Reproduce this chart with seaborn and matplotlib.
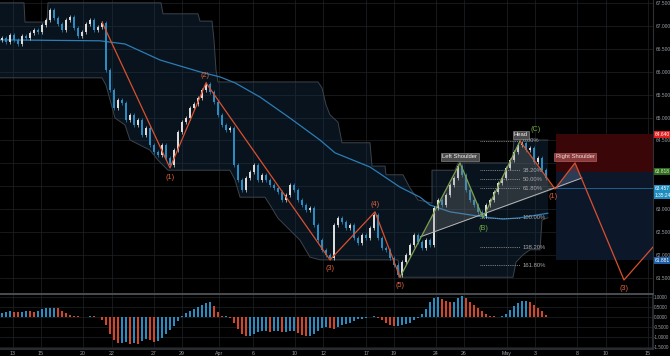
import numpy as np
import matplotlib
matplotlib.use('Agg')
import matplotlib.pyplot as plt
import seaborn as sns

# ---------------- data ----------------
# time axis: chart time units (14 units = 1 trading day)
tick_pos = [12.7, 41, 83, 112, 154, 182, 219, 253, 295, 323, 366, 394, 436, 464, 507, 535, 577, 606, 648]
tick_labels = ['13', '15', '20', '22', '27', '29', 'Apr', '6', '10', '12', '17', '19',
               '24', '26', 'May', '3', '8', '10', '15']

price_ticks = [61.5, 62.0, 62.5, 63.0, 63.5, 64.0, 64.5, 65.0, 65.5, 66.0, 66.5, 67.0, 67.5]
price_tick_shown = [True, True, True, True, False, False, True, True, True, True, True, True, True]
osc_ticks = [1.0, 0.5, 0.0, -0.5, -1.0, -1.5]

closes = [66.74, 66.65, 66.81, 66.70, 66.61, 66.78, 66.74, 66.85, 66.92, 66.87,
          67.03, 67.13, 67.35, 67.18, 67.05, 66.92, 67.13, 67.20, 66.96, 66.78,
          66.87, 67.05, 67.13, 66.92, 66.98, 67.07, 66.04, 65.60, 65.21, 65.39,
          65.32, 64.95, 65.06, 64.84, 64.95, 64.62, 64.77, 64.40, 64.25, 64.18,
          64.40, 64.12, 63.96, 64.29, 64.69, 64.90, 64.99, 65.21, 65.30, 65.43,
          65.60, 65.74, 65.56, 65.34, 65.06, 64.84, 64.73, 64.77, 63.96, 63.64,
          63.42, 63.68, 63.81, 63.96, 63.64, 63.75, 63.64, 63.53, 63.46, 63.37,
          63.20, 63.31, 63.53, 63.42, 63.20, 63.09, 62.98, 63.02, 62.65, 62.32,
          62.11, 62.00, 61.93, 62.65, 62.81, 62.72, 62.59, 62.65, 62.37, 62.26,
          62.43, 62.37, 62.59, 62.87, 62.37, 62.15, 62.11, 61.93, 61.78, 61.56,
          61.84, 62.00, 62.22, 62.43, 62.28, 62.15, 62.32, 62.22, 63.02, 63.20,
          63.09, 63.31, 63.53, 63.68, 63.94, 63.75, 63.42, 63.20, 63.09, 62.94,
          62.85, 63.09, 63.20, 63.37, 63.57, 63.68, 63.90, 64.07, 64.25, 64.40,
          64.45, 64.29, 64.34, 64.03, 64.12, 63.85, 63.68]
first_open = 66.70

osc = [0.20, 0.25, 0.30, 0.25, 0.22, 0.25, 0.30, 0.28, 0.25, 0.30,
       0.38, 0.42, 0.45, 0.45, 0.42, 0.30, 0.20, 0.10, 0.05, 0.02,
       -0.02, 0.00, 0.03, 0.02, -0.02, -0.15, -0.40, -0.85, -1.15, -1.30,
       -1.30, -1.25, -1.35, -1.30, -1.35, -1.20, -1.10, -1.15, -1.25, -1.20,
       -1.05, -0.85, -0.65, -0.45, -0.20, 0.05, 0.20, 0.30, 0.40, 0.50,
       0.60, 0.70, 0.72, 0.55, 0.25, 0.05, 0.05, -0.05, -0.30, -0.60,
       -0.85, -0.95, -0.95, -0.85, -0.75, -0.70, -0.70, -0.75, -0.70, -0.70,
       -0.75, -0.75, -0.70, -0.70, -0.80, -0.90, -0.98, -0.95, -0.85, -0.70,
       -0.55, -0.50, -0.55, -0.60, -0.50, -0.40, -0.35, -0.30, -0.20, -0.12,
       -0.10, -0.05, 0.00, 0.02, -0.05, -0.15, -0.30, -0.40, -0.45, -0.45,
       -0.40, -0.35, -0.30, -0.15, -0.05, 0.15, 0.40, 0.75, 0.95, 1.00,
       0.90, 0.80, 0.72, 0.75, 0.95, 1.05, 0.95, 0.75, 0.60, 0.45,
       0.30, 0.15, 0.05, 0.02, 0.00, 0.05, 0.15, 0.35, 0.55, 0.70,
       0.78, 0.80, 0.72, 0.60, 0.45, 0.30, 0.10]

ma_t = [0, 100, 125, 160, 200, 220, 235, 260, 290, 320, 335, 370, 400, 420, 430, 450, 483, 503, 520, 548]
ma_p = [66.70, 66.68, 66.61, 66.26, 66.00, 65.89, 65.76, 65.45, 64.99, 64.51, 64.23, 63.92,
        63.48, 63.26, 63.09, 62.94, 62.83, 62.78, 62.81, 62.91]

up_t = [0, 24, 25, 47, 48, 161, 163, 198, 200, 212, 214, 216, 218, 318, 322, 326, 330, 338, 342,
        370, 372, 385, 386, 403, 410, 418, 432, 432, 455, 458, 512, 514, 548]
up_p = [67.51, 67.51, 67.09, 67.09, 67.51, 67.51, 67.27, 67.27, 67.11, 67.11, 66.70, 66.04, 65.78,
        65.78, 65.65, 65.28, 65.06, 64.90, 64.45, 64.45, 63.94, 63.94, 63.75, 63.75, 63.46, 63.20,
        63.13, 63.85, 63.85, 64.01, 64.01, 64.51, 64.51]
lo_t = [0, 102, 106, 110, 115, 125, 130, 150, 158, 168, 230, 235, 240, 265, 270, 278, 300, 310,
        320, 398, 400, 513, 516, 523, 530, 540, 542, 548]
lo_p = [65.87, 65.87, 65.71, 65.39, 64.99, 64.84, 64.51, 64.29, 64.07, 63.85, 63.85, 63.64, 63.26,
        63.26, 63.09, 62.80, 62.32, 61.95, 61.89, 61.89, 61.51, 61.51, 61.84, 62.00, 62.11, 62.11,
        62.76, 62.81]

wave_t = [102, 170, 206, 330, 375, 400]
wave_p = [67.09, 63.90, 65.76, 61.89, 62.94, 61.51]
hs_t = [400, 460, 483, 520]
hs_p = [61.51, 64.01, 62.81, 64.49]
proj_t = [520, 555, 575, 624, 653]
proj_p = [64.49, 63.44, 64.01, 61.45, 62.17]
neck_t = [420, 582]
neck_p = [62.39, 63.68]

fib_levels = [0.0, 0.382, 0.5, 0.618, 1.0, 1.382, 1.618]
fib_labels = ['0.00%', '38.20%', '50.00%', '61.80%', '100.00%', '138.20%', '161.80%']
fib_hi, fib_lo = 64.49, 62.81

stop_price, entry_price, target_price, last_price = 64.64, 63.818, 61.881, 63.457

# ---------------- style ----------------
sns.set_theme(style='dark', rc={'axes.facecolor': '#000000', 'figure.facecolor': '#000000'})
plt.rcParams['font.family'] = ['Liberation Sans', 'DejaVu Sans']

BG = '#000000'
GRID = '#1b1e22'
TXT = '#9aa0a6'
UP = '#dcdcdc'
DN = '#2a8cc0'
RED = '#d9502e'
GREEN = '#7da04e'
AX_FS = 3.5

fig = plt.figure(figsize=(6.7, 3.56), dpi=100)
W, H = 670, 356
ax = fig.add_axes([0, 63 / H, 653 / W, 293 / H])
ax2 = fig.add_axes([0, 7 / H, 653 / W, 55 / H])

for a in (ax, ax2):
    a.set_facecolor(BG)
    a.set_xlim(0, 653)
    a.set_xticks(tick_pos)
    for s in a.spines.values():
        s.set_visible(False)
    for tp in tick_pos:
        a.axvline(tp, color=GRID, lw=0.6, zorder=0)

ax.set_ylim(61.165, 67.572)
ax2.set_ylim(-1.62, 1.147)

for p in price_ticks:
    ax.axhline(p, color=GRID, lw=0.6, zorder=0)
for v in osc_ticks:
    ax2.axhline(v, color=GRID, lw=0.6, zorder=0)

ax.yaxis.tick_right()
ax.set_yticks(price_ticks)
ax.set_yticklabels([f'{p:.3f}' if s else '' for p, s in zip(price_ticks, price_tick_shown)])
ax.tick_params(axis='y', labelsize=AX_FS, colors=TXT, length=0, pad=2)
ax.tick_params(axis='x', labelbottom=False, length=0)

ax2.yaxis.tick_right()
ax2.set_yticks(osc_ticks)
ax2.set_yticklabels([f'{v:.4f}' for v in osc_ticks])
ax2.tick_params(axis='y', labelsize=3.3, colors=TXT, length=0, pad=0.8)
ax2.set_xticklabels(tick_labels)
ax2.tick_params(axis='x', labelsize=3.8, colors=TXT, length=0, pad=1.2)

ax.spines['right'].set_visible(True)
ax.spines['right'].set_color('#2e3237')
ax.spines['right'].set_linewidth(0.8)
ax2.spines['right'].set_visible(True)
ax2.spines['right'].set_color('#2e3237')
ax2.spines['top'].set_visible(True)
ax2.spines['top'].set_color('#4a4d52')
ax2.spines['top'].set_linewidth(1.4)
ax2.spines['bottom'].set_visible(True)
ax2.spines['bottom'].set_color('#2e3237')

# ---------------- price channel band ----------------
band_t = list(up_t) + list(lo_t[::-1])
band_p = list(up_p) + list(lo_p[::-1])
ax.fill(band_t, band_p, color='#16304a', alpha=0.40, lw=0, zorder=1)
ax.plot(up_t, up_p, color='#3d4349', lw=0.7, zorder=2)
ax.plot(lo_t, lo_p, color='#3d4349', lw=0.7, zorder=2)

# ---------------- position tool ----------------
ax.fill_between([556, 653], entry_price, stop_price, color='#3a0608', lw=0, zorder=1)
ax.fill_between([556, 653], target_price, entry_price, color='#0c1829', lw=0, zorder=1)
ax.plot([548, 653], [last_price, last_price], color='#2a7ab0', lw=0.5, zorder=2)

# ---------------- moving average ----------------
sns.lineplot(x=ma_t, y=ma_p, ax=ax, color='#2b7db5', lw=0.9, zorder=3)

# ---------------- candles ----------------
n = len(closes)
ct = np.arange(n) * 4 + 2
opens = np.array([first_open] + closes[:-1])
cl = np.array(closes)
wick = 0.04
is_up = cl >= opens
colors = np.where(is_up, UP, DN)
body_lo = np.minimum(opens, cl)
body_h = np.maximum(np.abs(cl - opens), 0.012)
ax.vlines(ct, body_lo - wick, body_lo + body_h + wick, colors=colors, lw=0.5, zorder=4)
ax.bar(ct, body_h, bottom=body_lo, width=2.2, color=colors, lw=0, zorder=4)

# ---------------- head & shoulders ----------------
hs_poly_t = [421.4, 460, 483, 520, 555]
hs_poly_p = [62.40, 64.01, 62.81, 64.49, 63.44]
ax.fill(hs_poly_t, hs_poly_p, color='#8a8a8a', alpha=0.28, lw=0, zorder=5)
ax.fill([555, 575, 582], [63.44, 64.01, 63.68], color='#6a82a8', alpha=0.35, lw=0, zorder=5)
sns.lineplot(x=neck_t, y=neck_p, ax=ax, color='#b8b8b8', lw=0.7, zorder=6)
sns.lineplot(x=hs_t, y=hs_p, ax=ax, color=GREEN, lw=0.9, zorder=6)

# ---------------- elliott waves ----------------
sns.lineplot(x=wave_t, y=wave_p, ax=ax, color=RED, lw=0.9, zorder=6)
sns.lineplot(x=proj_t, y=proj_p, ax=ax, color=RED, lw=0.9, zorder=6)

wl = dict(color='#e0643f', fontsize=5.2, ha='center', va='center', zorder=8)
ax.text(170, 63.70, '(1)', **wl)
ax.text(205, 65.92, '(2)', **wl)
ax.text(330, 61.70, '(3)', **wl)
ax.text(375, 63.10, '(4)', **wl)
ax.text(400, 61.33, '(5)', **wl)
ax.text(553, 63.28, '(1)', **wl)
ax.text(624, 61.26, '(3)', **wl)
gl = dict(color='#6fae45', fontsize=5.2, ha='center', va='center', zorder=8)
ax.text(483, 62.58, '(B)', **gl)
ax.text(536, 64.74, '(C)', **gl)

# fib levels
for lvl, lab in zip(fib_levels, fib_labels):
    fp = fib_hi - lvl * (fib_hi - fib_lo)
    ax.plot([480, 520], [fp, fp], color='#a0a0a0', lw=0.6, ls=(0, (1, 1.2)), zorder=6)
    ax.text(523, fp, lab, color='#a8a8a8', fontsize=4.2, ha='left', va='center', zorder=8)

# pattern labels
ax.text(460, 64.14, 'Left Shoulder', color='#f0f0f0', fontsize=4.2, ha='center', va='center', zorder=9,
        bbox=dict(boxstyle='square,pad=0.25', fc='#4a4a4a', ec='#9a9a9a', lw=0.4))
ax.text(521, 64.62, 'Head', color='#f0f0f0', fontsize=4.2, ha='center', va='center', zorder=9,
        bbox=dict(boxstyle='square,pad=0.25', fc='#4a4a4a', ec='#9a9a9a', lw=0.4))
ax.text(575, 64.14, 'Right Shoulder', color='#f4dede', fontsize=4.2, ha='center', va='center', zorder=9,
        bbox=dict(boxstyle='square,pad=0.25', fc='#8a3a3a', ec='#c07070', lw=0.4))

# ---------------- price labels on the axis ----------------
yt = ax.get_yaxis_transform()
def price_box(p, txt, fc, tc='#ffffff'):
    ax.text(1.003, p, txt, transform=yt, color=tc, fontsize=AX_FS, ha='left', va='center', zorder=10,
            clip_on=False, bbox=dict(boxstyle='square,pad=0.2', fc=fc, ec='none'))

price_box(stop_price, f'{stop_price:.3f}', '#e01e1e')
price_box(entry_price, f'{entry_price:.3f}', '#2f6b1f', '#d8f0c8')
price_box(last_price, f'{last_price:.3f}', '#1f8cc0')
price_box(last_price - 0.16, '1:35:24', '#1f8cc0')
price_box(target_price, f'{target_price:.3f}', '#1d5ea8')

# ---------------- oscillator histogram ----------------
ov = np.array(osc)
prev = np.concatenate([[ov[0]], ov[:-1]])
hcol = np.where(ov >= prev, DN, '#d4462a')
ax2.bar(ct, ov, width=1.6, color=hcol, lw=0, zorder=3)

fig.savefig('out.png', dpi=100, facecolor=BG)
